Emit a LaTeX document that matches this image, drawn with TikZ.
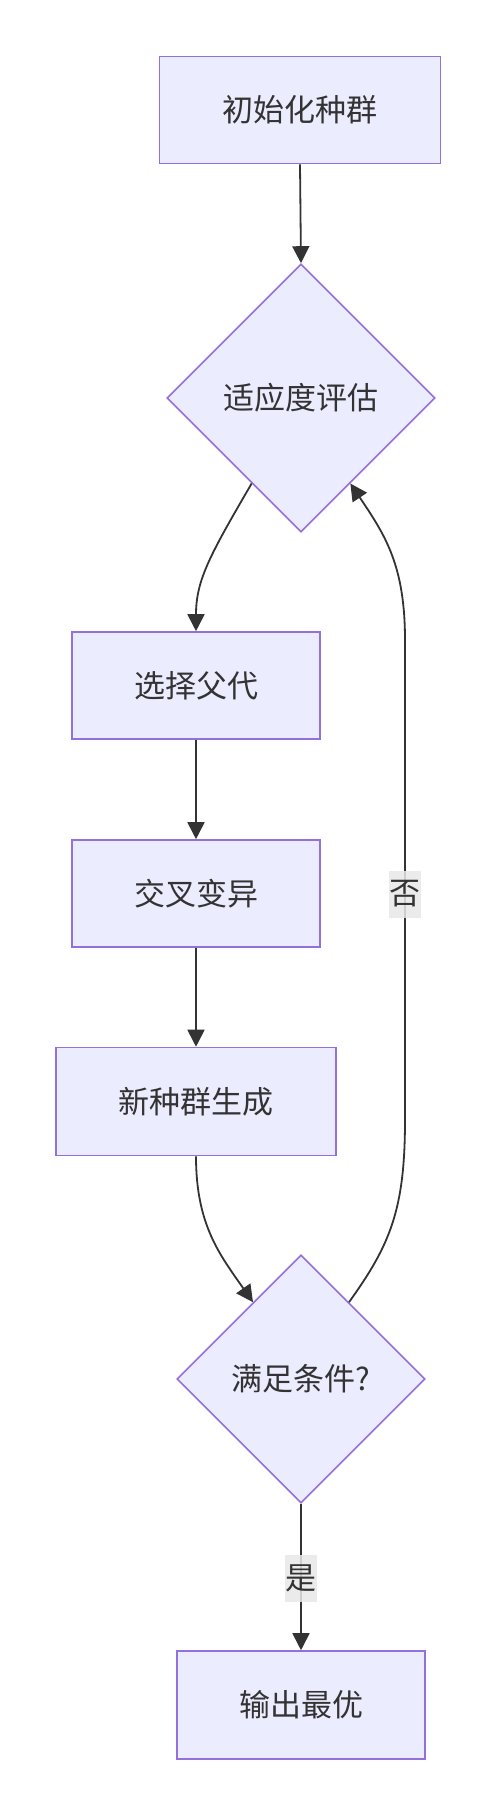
\documentclass[tikz,border=0pt]{standalone}
\usepackage{fontspec}
\setmainfont{Noto Sans CJK SC}
\usetikzlibrary{shapes.geometric,arrows.meta}
\definecolor{nodefill}{HTML}{ECECFF}
\definecolor{nodeline}{HTML}{9370DB}
\definecolor{ink}{HTML}{333333}
\definecolor{lblbg}{HTML}{E8E8E8}
\tikzset{
  base/.style={draw=nodeline, fill=nodefill, line width=1.6pt, text=ink, inner sep=0pt,
    font=\fontsize{31pt}{36pt}\selectfont},
  procbox/.style={base, rectangle},
  decbox/.style={base, diamond, aspect=1},
  conn/.style={draw=ink, line width=1.8pt, -{Triangle[length=17pt,width=17pt]}},
  plain/.style={draw=ink, line width=1.8pt},
  lbl/.style={fill=lblbg, fill opacity=0.85, text opacity=1, text=ink, inner sep=0pt,
    minimum width=32pt, minimum height=47pt, font=\fontsize{31pt}{36pt}\selectfont}
}
\begin{document}
\begin{tikzpicture}[x=1pt,y=-1pt]
\useasboundingbox (0,0) rectangle (497,1815);
\node[procbox, minimum width=281pt, minimum height=107pt] (A) at (300,110) {初始化种群};
\node[decbox, minimum width=268pt, minimum height=268pt] (B) at (301,398) {适应度评估};
\node[procbox, minimum width=248pt, minimum height=107pt] (C) at (196,685.5) {选择父代};
\node[procbox, minimum width=248pt, minimum height=107pt] (D) at (196,893.5) {交叉变异};
\node[procbox, minimum width=280pt, minimum height=108pt] (E) at (196,1101.5) {新种群生成};
\node[decbox, minimum width=248pt, minimum height=248pt] (F) at (301,1379) {满足条件?};
\node[procbox, minimum width=248pt, minimum height=108pt] (G) at (301,1705) {输出最优};

\draw[conn] (A.south) -- (B.north);
\draw[conn] (B.240) .. controls (210,555) and (196,580) .. (C.north);
\draw[conn] (C.south) -- (D.north);
\draw[conn] (D.south) -- (E.north);
\draw[conn] (E.south) .. controls (196,1225) and (220,1255) .. (F.122);
\draw[plain] (F.58) .. controls (390,1245) and (405,1210) .. (405,1120)
  coordinate (r1) -- (405,640) coordinate (r2);
\draw[conn] (r2) .. controls (405,565) and (385,535) .. (B.300);
\draw[conn] (F.south) -- (G.north);
\node[lbl] (no) at (404.5,894) {否};
\node[lbl] (yes) at (301,1578) {是};
\end{tikzpicture}
\end{document}
